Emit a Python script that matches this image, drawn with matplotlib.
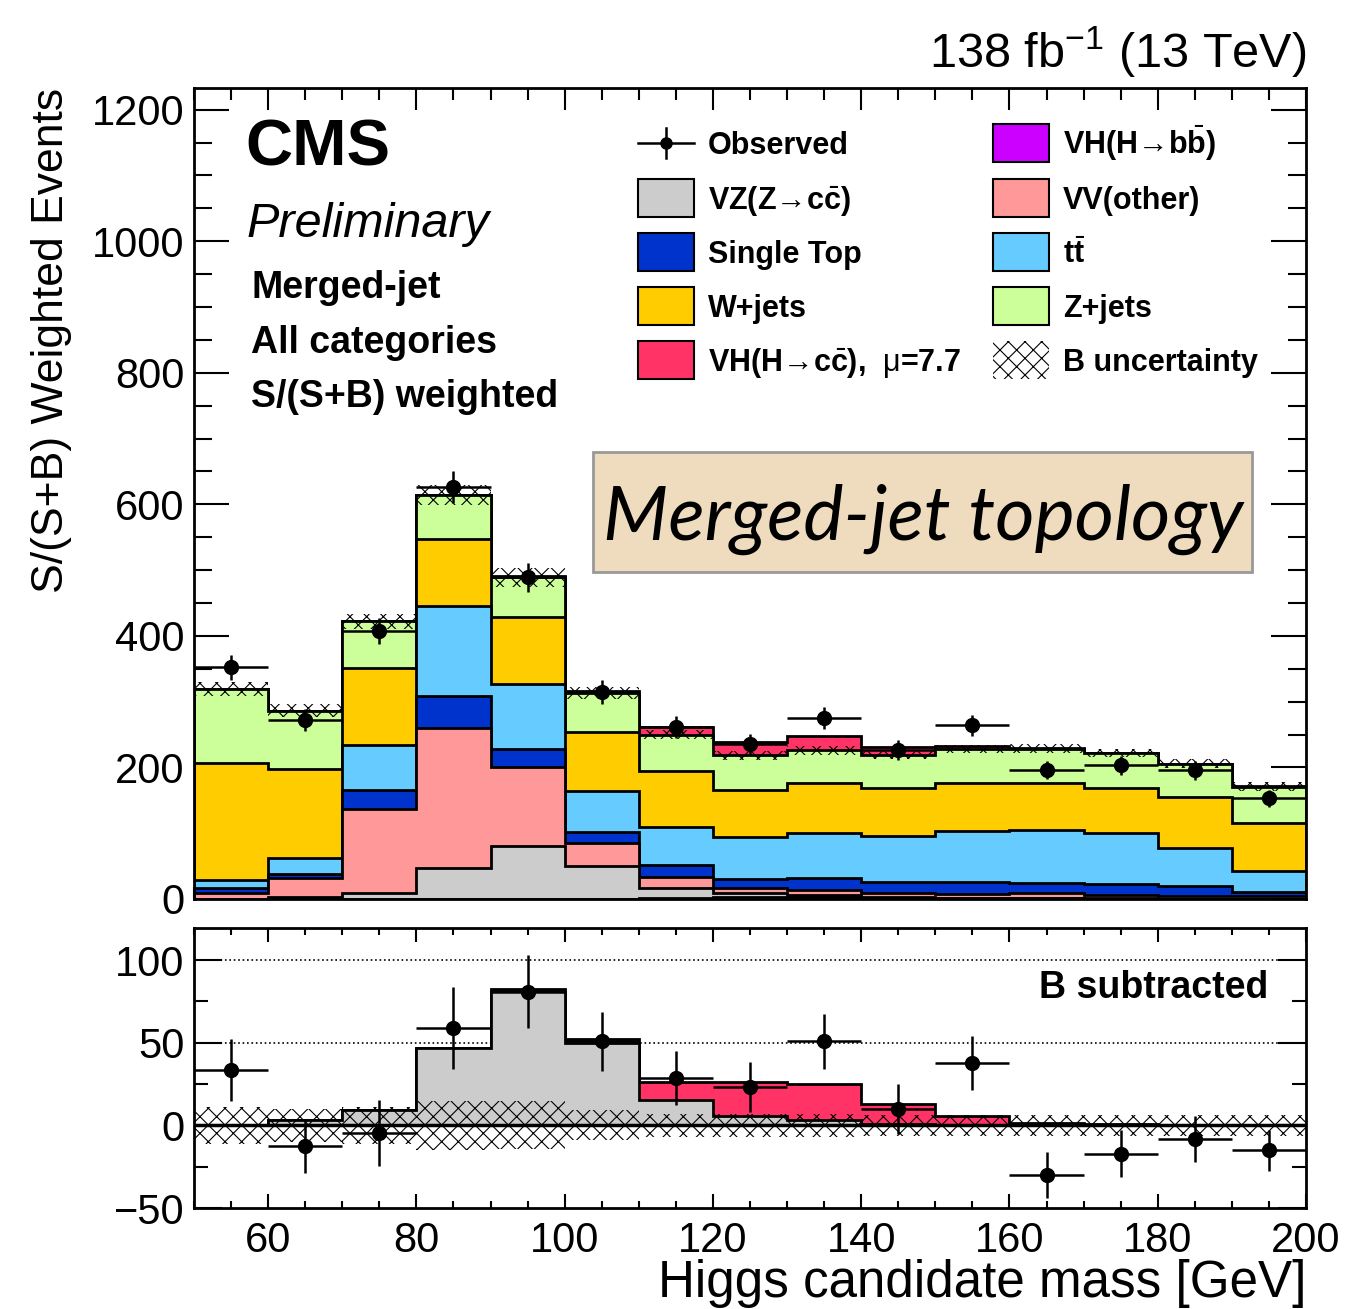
import numpy as np
import matplotlib
matplotlib.use('Agg')
import matplotlib.pyplot as plt
from matplotlib.patches import Rectangle
from matplotlib.lines import Line2D
from matplotlib.ticker import MultipleLocator

plt.rcParams['font.family'] = ['Liberation Sans', 'DejaVu Sans']
plt.rcParams['mathtext.fontset'] = 'custom'
plt.rcParams['mathtext.rm'] = 'Liberation Sans'
plt.rcParams['mathtext.bf'] = 'Liberation Sans:bold'
plt.rcParams['mathtext.it'] = 'Liberation Sans:italic'
plt.rcParams['hatch.linewidth'] = 0.8

#%%
# Data
edges = [50, 60, 70, 80, 90, 100, 110, 120, 130, 140, 150, 160, 170, 180, 190, 200]
centers = [55, 65, 75, 85, 95, 105, 115, 125, 135, 145, 155, 165, 175, 185, 195]

vhbb  = [0, 0, 0, 0, 0, 0.5, 1.5, 3, 3, 2, 1.5, 1, 0.5, 0.3, 0.2]
vzcc  = [0.5, 3, 9.5, 46.5, 81, 50, 15.5, 5.5, 3, 1, 0.5, 0.4, 0.3, 0.2, 0.2]
vv    = [9.1, 28.5, 127.5, 213.5, 119, 35.3, 17, 7.8, 7.7, 5.6, 5.6, 7.3, 5.8, 4.5, 4.6]
stop  = [6.6, 6.5, 29, 48, 28.5, 15.7, 17, 13.7, 18.8, 16.8, 18.8, 16.2, 16.2, 14.8, 6]
ttbar = [12.7, 24, 68.5, 137, 99, 62, 59, 65, 68.5, 70.6, 77.6, 80.1, 77.2, 58.4, 32.1]
wjets = [177.7, 135.5, 116.5, 102, 101, 90.5, 84, 71, 76, 72.5, 73, 72, 69.5, 77.6, 73.1]
zjets = [112.4, 88.5, 71, 67, 60.5, 59, 56, 52.3, 49, 50.8, 51, 51.4, 52.3, 49.8, 54.8]
vhcc  = [0, 0, 0, 0.5, 1.5, 2.5, 11, 21, 22, 12, 5, 1, 0.5, 0.3, 0.2]

obs     = [352, 272.6, 407, 626.4, 489.4, 314.8, 261.4, 235.6, 275.2, 227, 264, 196.5, 203, 195.5, 152.8]
obs_err = [19, 16.5, 20, 25, 22, 17.7, 16.2, 15.3, 16.6, 15, 16.2, 14, 14.2, 14, 12.4]
b_unc   = [11, 10, 11, 15, 14.5, 9, 7, 7, 7, 6.5, 6.5, 6.5, 6.5, 6.5, 6.5]
obs_sub = [33.5, -12.4, -4.4, 58.8, 80.9, 50.8, 28.7, 23.1, 50.8, 10, 37.7, -30.1, -17.1, -8.4, -15.1]

labels = ['VH(H\u2192b$\\bar{\\mathbf{b}}$)', 'VZ(Z\u2192c$\\bar{\\mathbf{c}}$)', 'VV(other)',
          'Single Top', 't$\\bar{\\mathbf{t}}$', 'W+jets', 'Z+jets',
          'VH(H\u2192c$\\bar{\\mathbf{c}}$),  $\\mathrm{\\mu}$=7.7']
colors = ['#cc00ff', '#cccccc', '#ff9999', '#0033cc', '#66ccff', '#ffcc00', '#ccff99', '#ff3366']

W, H = 1348, 1309
def fx(x):
    return x / W
def fy(y):
    return 1 - y / H

#%%
fig = plt.figure(figsize=(W / 100, H / 100), dpi=100)
ax1 = fig.add_axes([fx(194), fy(899), (1306 - 194) / W, (899 - 88) / H])
ax2 = fig.add_axes([fx(194), fy(1208), (1306 - 194) / W, (1208 - 928) / H])

comps = np.array([vhbb, vzcc, vv, stop, ttbar, wjets, zjets, vhcc])
cum = np.cumsum(comps, axis=0)
for i in reversed(range(len(comps))):
    ax1.stairs(cum[i], edges, baseline=0, fill=True, facecolor=colors[i],
               edgecolor='black', lw=2, zorder=2)

btot = cum[6]
ax1.stairs(btot + np.array(b_unc), edges, baseline=btot - np.array(b_unc), fill=True,
           hatch='xx', facecolor='none', edgecolor='black', lw=0, zorder=3)
ax1.errorbar(centers, obs, yerr=obs_err, xerr=5, fmt='o', color='black', ms=10,
             elinewidth=1.8, capsize=0, zorder=4)

ax1.set_xlim(50, 200)
ax1.set_ylim(0, 1233)
ax1.xaxis.set_major_locator(MultipleLocator(20))
ax1.xaxis.set_minor_locator(MultipleLocator(5))
ax1.yaxis.set_major_locator(MultipleLocator(200))
ax1.yaxis.set_minor_locator(MultipleLocator(50))
ax1.tick_params(which='both', direction='in', top=True, right=True, width=1.5)
ax1.tick_params(axis='y', which='major', length=25, labelsize=30, pad=7)
ax1.tick_params(axis='y', which='minor', length=13)
ax1.tick_params(axis='x', which='major', length=16, labelbottom=False)
ax1.tick_params(axis='x', which='minor', length=8.5)
for s in ax1.spines.values():
    s.set_linewidth(2)
    s.set_zorder(5)

# lower panel
ax2.stairs(np.array(vzcc) + np.array(vhcc), edges, baseline=0, fill=True,
           facecolor='#ff3366', edgecolor='black', lw=2, zorder=2)
ax2.stairs(vzcc, edges, baseline=0, fill=True, facecolor='#cccccc',
           edgecolor='black', lw=2, zorder=2)
ax2.stairs(b_unc, edges, baseline=-np.array(b_unc), fill=True, hatch='xx',
           facecolor='none', edgecolor='black', lw=0, zorder=3)
ax2.axhline(0, color='black', lw=2.5, zorder=3)
ax2.axhline(50, color='black', lw=1.2, ls=':', zorder=1)
ax2.axhline(100, color='black', lw=1.2, ls=':', zorder=1)
ax2.errorbar(centers, obs_sub, yerr=obs_err, xerr=5, fmt='o', color='black', ms=10,
             elinewidth=1.8, capsize=0, zorder=4)
ax2.set_xlim(50, 200)
ax2.set_ylim(-50, 119.4)
ax2.xaxis.set_major_locator(MultipleLocator(20))
ax2.xaxis.set_minor_locator(MultipleLocator(5))
ax2.yaxis.set_major_locator(MultipleLocator(50))
ax2.yaxis.set_minor_locator(MultipleLocator(25))
ax2.tick_params(which='both', direction='in', top=True, right=True, width=1.5)
ax2.tick_params(axis='y', which='major', length=20, labelsize=30, pad=7)
ax2.tick_params(axis='y', which='minor', length=10)
ax2.tick_params(axis='x', which='major', length=10, labelsize=30, pad=9)
ax2.tick_params(axis='x', which='minor', length=5)
ax2.set_yticks([-50, 0, 50, 100])
ax2.set_yticklabels(['\u221250', '0', '50', '100'])
for s in ax2.spines.values():
    s.set_linewidth(2)
    s.set_zorder(5)

#%%
# Labels and texts
fig.text(fx(1268), fy(988), 'B subtracted', fontsize=27, fontweight='bold', ha='right', va='center')
fig.text(fx(52), fy(88), 'S/(S+B) Weighted Events', rotation=90, ha='center', va='top', fontsize=32)
fig.text(fx(1306), fy(1297), 'Higgs candidate mass [GeV]', ha='right', va='baseline', fontsize=36.8)
fig.text(fx(1306), fy(68), '138 fb$^{-1}$ (13 TeV)', ha='right', va='baseline', fontsize=35)
fig.text(fx(245), fy(165), 'CMS', fontsize=47, fontweight='bold', va='baseline')
fig.text(fx(247), fy(237), 'Preliminary', fontsize=35, style='italic', va='baseline')
fig.text(fx(251), fy(298), 'Merged-jet', fontsize=27, fontweight='bold', va='baseline')
fig.text(fx(251), fy(353), 'All categories', fontsize=27, fontweight='bold', va='baseline')
fig.text(fx(251), fy(407), 'S/(S+B) weighted', fontsize=27, fontweight='bold', va='baseline')

fig.patches.append(Rectangle((fx(593), fy(572)), (1252 - 593) / W, (572 - 452) / H,
                             transform=fig.transFigure, facecolor='#efdcbf',
                             edgecolor='#999999', lw=2, zorder=6))
fig.text(fx(923), fy(540), 'Merged-jet topology', fontsize=54.5, style='italic',
         family=['Lato', 'DejaVu Sans'], ha='center', va='baseline', zorder=7)

# legend
rows = [143, 198, 252, 306, 360]
col1 = [None, 1, 3, 5, 7]
col2 = [0, 2, 4, 6, None]
for r, (i1, i2) in enumerate(zip(col1, col2)):
    y = rows[r]
    for i, bx in ((i1, 638), (i2, 993)):
        if i is None:
            continue
        fig.patches.append(Rectangle((fx(bx), fy(y + 19)), 56 / W, 38 / H, transform=fig.transFigure,
                                     facecolor=colors[i], edgecolor='black', lw=1.5))
        fig.text(fx(bx + 70), fy(y + 11), labels[i], fontsize=22, fontweight='bold', va='baseline')

# observed entry
fig.lines.append(Line2D([fx(638), fx(694)], [fy(143), fy(143)], transform=fig.transFigure, color='black', lw=1.8))
fig.lines.append(Line2D([fx(666), fx(666)], [fy(128), fy(158)], transform=fig.transFigure, color='black', lw=1.8))
fig.lines.append(Line2D([fx(666)], [fy(143)], transform=fig.transFigure, color='black', marker='o', ms=8))
fig.text(fx(708), fy(154), 'Observed', fontsize=22, fontweight='bold', va='baseline')
# B uncertainty entry
fig.patches.append(Rectangle((fx(993), fy(379)), 56 / W, 38 / H, transform=fig.transFigure,
                             facecolor='none', edgecolor='black', lw=0, hatch='xx'))
fig.text(fx(1063), fy(371), 'B uncertainty', fontsize=22, fontweight='bold', va='baseline')

fig.savefig('out.png', dpi=100)
